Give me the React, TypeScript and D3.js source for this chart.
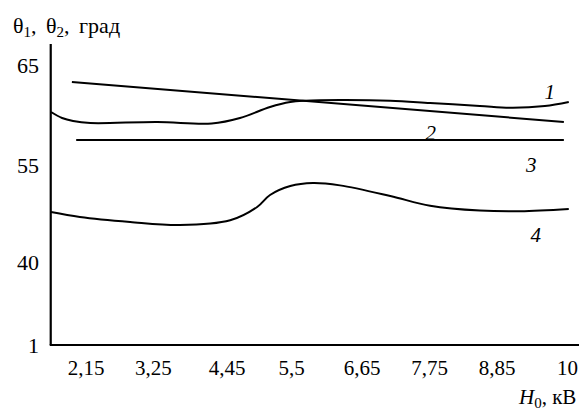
import React, { useEffect, useRef } from "react"
import * as d3 from "d3"

// x ticks (H0, kOe) and y ticks (theta, deg) as printed on the chart
const xTicks = [2.15, 3.25, 4.45, 5.5, 6.65, 7.75, 8.85, 10]
const yTicks = [1, 40, 55, 65]

// curve 1: wavy upper curve
const curve1H = [1.58, 1.76, 1.94, 2.22, 3.31, 4.2, 4.66, 5.15, 5.48, 5.72, 6.29, 7.11, 7.76, 8.57, 9.11, 9.63, 10.02]
const curve1T = [60.3, 59.7, 59.4, 59.2, 59.3, 59.15, 59.7, 60.8, 61.3, 61.43, 61.5, 61.43, 61.2, 60.9, 60.72, 60.9, 61.3]

// curve 2: straight decreasing line
const curve2H = [1.92, 9.94]
const curve2T = [63.3, 59.3]

// curve 3: constant
const curve3H = [1.99, 9.94]
const curve3T = [57.5, 57.5]

// curve 4: lower curve
const curve4H = [1.58, 2.05, 2.87, 3.68, 4.5, 4.94, 5.15, 5.48, 5.85, 6.29, 7.11, 7.76, 8.57, 9.23, 10.02]
const curve4T = [47.73, 46.96, 46.19, 45.72, 46.45, 48.51, 50.36, 51.75, 52.22, 51.85, 50.21, 48.7, 47.95, 47.85, 48.2]

const curveLabels = ["1", "2", "3", "4"]
const labelH = [9.71, 7.77, 9.41, 9.48]
const labelT = [62.3, 58.2, 55.05, 44.3]

const width = 579
const height = 410
const font = "'Liberation Serif', 'Times New Roman', serif"

const App = () => {
  const ref = useRef<SVGSVGElement>(null)

  useEffect(() => {
    const svg = d3.select(ref.current)
    svg.selectAll("*").remove()

    const x = d3.scaleLinear().domain([2.15, 8.85]).range([86, 497])
    // the printed y axis is not uniform, so the scale is piecewise
    const y = d3.scaleLinear().domain([1, 40, 55, 65]).range([345, 262, 165, 65])

    const axisX = x(1.575)

    // axes
    svg.append("line")
      .attr("x1", axisX).attr("x2", axisX)
      .attr("y1", 44).attr("y2", y(1))
      .attr("stroke", "#000").attr("stroke-width", 2.2)
    svg.append("line")
      .attr("x1", axisX - 1).attr("x2", width)
      .attr("y1", y(1)).attr("y2", y(1))
      .attr("stroke", "#000").attr("stroke-width", 2.2)

    svg.selectAll(".ytick")
      .data(yTicks)
      .enter()
      .append("text")
      .attr("x", 39)
      .attr("y", (d) => y(d))
      .attr("dy", "0.35em")
      .attr("text-anchor", "end")
      .attr("font-family", font)
      .attr("font-size", 22)
      .text((d) => d)

    svg.selectAll(".xtick")
      .data(xTicks)
      .enter()
      .append("text")
      .attr("x", (d) => x(d))
      .attr("y", 375)
      .attr("text-anchor", "middle")
      .attr("font-family", font)
      .attr("font-size", 21)
      .text((d) => String(d).replace(".", ","))

    // y title
    const title = svg.append("text")
      .attr("x", 13).attr("y", 33)
      .attr("font-family", font).attr("font-size", 22)
      .attr("word-spacing", 4)
    title.append("tspan").text("θ")
    title.append("tspan").attr("font-size", 15).attr("dy", 4).text("1")
    title.append("tspan").attr("dy", -4).text(", θ")
    title.append("tspan").attr("font-size", 15).attr("dy", 4).text("2")
    title.append("tspan").attr("dy", -4).text(", град")

    // x title
    const xt = svg.append("text")
      .attr("x", 519).attr("y", 404)
      .attr("font-family", font).attr("font-size", 21)
    xt.append("tspan").attr("font-style", "italic").text("H")
    xt.append("tspan").attr("font-size", 15).attr("dy", 4).text("0")
    xt.append("tspan").attr("dy", -4).text(", кВ")

    const line = d3.line<[number, number]>()
      .x((d) => x(d[0]))
      .y((d) => y(d[1]))
      .curve(d3.curveCatmullRom.alpha(0.5))

    const series = [
      [curve1H, curve1T],
      [curve2H, curve2T],
      [curve3H, curve3T],
      [curve4H, curve4T],
    ]

    series.forEach(([hs, ts]) => {
      svg.append("path")
        .datum(hs.map((h, i) => [h, ts[i]] as [number, number]))
        .attr("d", line)
        .attr("fill", "none")
        .attr("stroke", "#000")
        .attr("stroke-width", 2)
    })

    svg.selectAll(".clabel")
      .data(curveLabels)
      .enter()
      .append("text")
      .attr("x", (d, i) => x(labelH[i]))
      .attr("y", (d, i) => y(labelT[i]))
      .attr("dy", "0.35em")
      .attr("text-anchor", "middle")
      .attr("font-family", font)
      .attr("font-style", "italic")
      .attr("font-size", 21)
      .text((d) => d)
  }, [])

  return (
    <svg
      ref={ref}
      width={width}
      height={height}
      style={{ position: "absolute", left: 0, top: 0, background: "#fff" }}
    />
  )
}

export default App
